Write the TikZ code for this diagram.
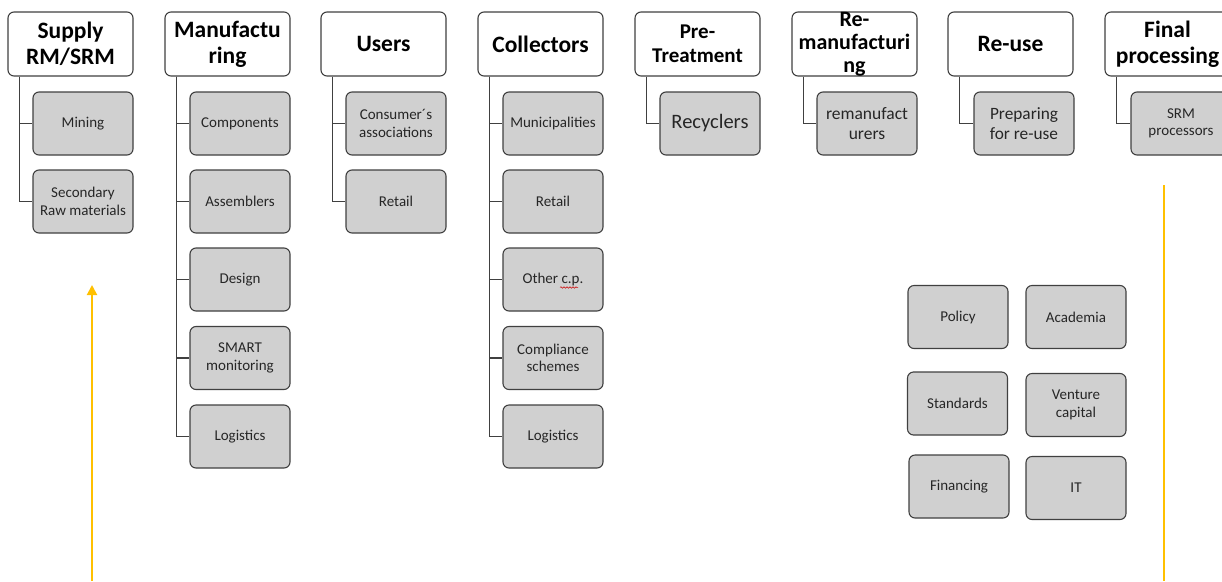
\documentclass[tikz,border=0pt]{standalone}
\usepackage{fontspec}
\setmainfont{Carlito}
\usetikzlibrary{arrows.meta,decorations.pathmorphing}
\definecolor{boxgray}{HTML}{D0D0D0}
\definecolor{edge}{HTML}{404040}
\definecolor{gold}{HTML}{FFC000}
\definecolor{txt}{HTML}{262626}
\tikzset{
  head/.style={draw=edge, line width=1.1pt, fill=white, rounded corners=6pt,
    minimum width=125pt, minimum height=64pt, inner sep=0pt, align=center,
    font=\fontsize{23.5}{26}\selectfont\bfseries, text=black},
  item/.style={draw=edge, line width=1.1pt, fill=boxgray, rounded corners=6pt,
    minimum width=100pt, minimum height=63pt, inner sep=0pt, align=center,
    font=\fontsize{15}{17.5}\selectfont, text=txt},
  link/.style={draw=edge, line width=1.1pt},
  goldline/.style={draw=gold, line width=2pt}
}
\begin{document}
\begin{tikzpicture}[x=1pt,y=-1pt]
\useasboundingbox (0,0) rectangle (1222,581);
% headers (left edges 8,165,321,478,635,792,948,1105)
\node[head] (h1) at (70.5,44) {Supply\\RM/SRM};
\node[head] (h2) at (227.5,44) {Manufactu\\ring};
\node[head] (h3) at (383.5,44) {Users};
\node[head] (h4) at (540.5,44) {Collectors};
\node[head, font=\fontsize{21}{24.5}\selectfont\bfseries] (h5) at (697.5,44) {Pre-\\Treatment};
\node[head, font=\fontsize{22}{23}\selectfont\bfseries] (h6) at (854.5,44) {Re-\\manufacturi\\ng};
\node[head] (h7) at (1010.5,44) {Re-use};
\node[head] (h8) at (1167.5,44) {Final\\processing};
% column 1
\node[item] (c11) at (83,123.5) {Mining};
\node[item] (c12) at (83,201.5) {Secondary\\Raw materials};
% column 2
\node[item] (c21) at (240,123.5) {Components};
\node[item] (c22) at (240,201.5) {Assemblers};
\node[item] (c23) at (240,279.5) {Design};
\node[item] (c24) at (240,358) {SMART\\monitoring};
\node[item] (c25) at (240,436.5) {Logistics};
% column 3
\node[item] (c31) at (396,123.5) {Consumer´s\\associations};
\node[item] (c32) at (396,201.5) {Retail};
% column 4
\node[item] (c41) at (553,123.5) {Municipalities};
\node[item] (c42) at (553,201.5) {Retail};
\node[item] (c43) at (553,279.5) {Other c.p.};
\node[item] (c44) at (553,358) {Compliance\\schemes};
\node[item] (c45) at (553,436.5) {Logistics};
% single-child columns
\node[item, font=\fontsize{20.5}{24}\selectfont] (c51) at (710,123.5) {Recyclers};
\node[item, font=\fontsize{17.5}{20}\selectfont] (c61) at (867,123.5) {remanufact\\urers};
\node[item, font=\fontsize{17.3}{20}\selectfont] (c71) at (1024,123.5) {Preparing\\for re-use};
\node[item] (c81) at (1181,123.5) {SRM\\processors};
% stakeholder grid
\node[item] (p1) at (958,317) {Policy};
\node[item] (p2) at (1076,317) {Academia};
\node[item] (p3) at (957.5,403.5) {Standards};
\node[item] (p4) at (1076,405) {Venture\\capital};
\node[item] (p5) at (959,486.5) {Financing};
\node[item] (p6) at (1076,488) {IT};
% spell-check squiggle under c.p.
\draw[red!80!black, line width=0.5pt, decoration={snake, amplitude=0.8pt, segment length=3pt}, decorate]
  ([xshift=7pt,yshift=-8pt]c43.center) -- ([xshift=25pt,yshift=-8pt]c43.center);
% connectors
\foreach \h/\c in {h1/c11,h1/c12,h2/c21,h2/c22,h2/c23,h2/c24,h2/c25,h3/c31,h3/c32,
                   h4/c41,h4/c42,h4/c43,h4/c44,h4/c45,h5/c51,h6/c61,h7/c71,h8/c81}
  \draw[link] ([xshift=12pt]\h.south west) |- (\c.west);
% gold arrows
\coordinate (ga0) at (92,581);
\coordinate (ga1) at (92,285);
\coordinate (gb0) at (1163.5,185);
\coordinate (gb1) at (1163.5,581);
\draw[goldline, -{Triangle[width=10pt,length=10pt]}] (ga0) -- (ga1);
\draw[goldline] (gb0) -- (gb1);
\end{tikzpicture}
\end{document}
